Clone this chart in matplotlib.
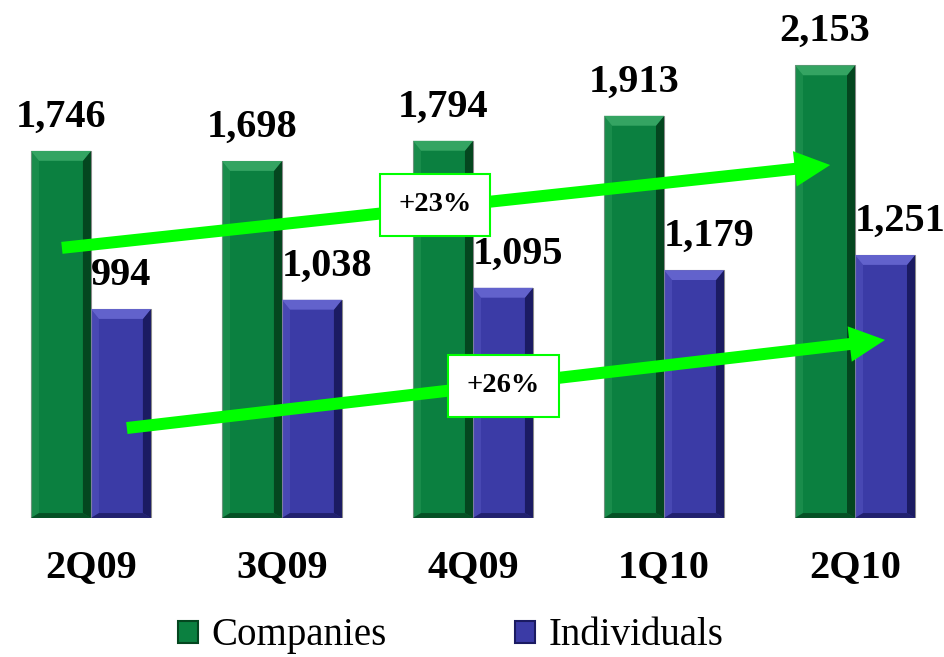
import numpy as np
import matplotlib.pyplot as plt
from matplotlib.patches import Polygon, Patch

quarters = ['2Q09', '3Q09', '4Q09', '1Q10', '2Q10']
companies = [1746, 1698, 1794, 1913, 2153]
individuals = [994, 1038, 1095, 1179, 1251]

green = '#0b8040'
green_light = '#34a462'
green_dark = '#04461f'
blue = '#3b3ba6'
blue_light = '#6262cc'
blue_dark = '#1b1b62'
lime = '#00ff00'

plt.rcParams['font.family'] = ['Liberation Serif', 'DejaVu Serif']

fig = plt.figure(figsize=(9.45, 6.57), dpi=100)
ax = fig.add_axes([0, 139 / 657, 1, 518 / 657])

x = np.arange(len(quarters))
w = 0.314


def bevel(ax, bars, light, dark):
    # fake 3D bevel on every bar: lighter top, darker bottom/right
    dx = 0.042
    dy = 47
    for b in bars:
        x0, x1 = b.get_x(), b.get_x() + b.get_width()
        h = b.get_height()
        top = [(x0, h), (x1, h), (x1 - dx, h - dy), (x0 + dx, h - dy)]
        bottom = [(x0, 0), (x1, 0), (x1 - dx, dy * 0.5), (x0 + dx, dy * 0.5)]
        right = [(x1, 0), (x1, h), (x1 - dx, h - dy), (x1 - dx, dy * 0.5)]
        left = [(x0, 0), (x0, h), (x0 + dx, h - dy), (x0 + dx, dy * 0.5)]
        ax.add_patch(Polygon(left, closed=True, fc=light, ec='none', alpha=0.35, zorder=3))
        ax.add_patch(Polygon(right, closed=True, fc=dark, ec='none', zorder=3))
        ax.add_patch(Polygon(bottom, closed=True, fc=dark, ec='none', alpha=0.8, zorder=3))
        ax.add_patch(Polygon(top, closed=True, fc=light, ec='none', zorder=3))


b1 = ax.bar(x - w / 2, companies, w, color=green, edgecolor='#8a8a8a', linewidth=0.8, zorder=2)
b2 = ax.bar(x + w / 2, individuals, w, color=blue, edgecolor='#8a8a8a', linewidth=0.8, zorder=2)
bevel(ax, b1, green_light, green_dark)
bevel(ax, b2, blue_light, blue_dark)

for xi, v in zip(x, companies):
    ax.annotate(f'{v:,}', (xi - w / 2, v), xytext=(0, 11), textcoords='offset points',
                ha='center', va='bottom', fontsize=29, fontweight='bold')
for xi, v in zip(x, individuals):
    ax.annotate(f'{v:,}', (xi, v), xytext=(0, 11), textcoords='offset points',
                ha='left', va='bottom', fontsize=29, fontweight='bold')

# growth arrows
arrow = dict(arrowstyle='simple,head_length=0.8,head_width=0.8,tail_width=0.27',
             fc=lime, ec='none', mutation_scale=32, shrinkA=0, shrinkB=0)
ax.annotate('', xy=(3.87, 1679), xytext=(-0.152, 1285), arrowprops=arrow, zorder=5)
ax.annotate('', xy=(4.157, 847), xytext=(0.188, 428), arrowprops=arrow, zorder=5)

box = dict(boxstyle='square,pad=0.65', fc='white', ec=lime, lw=1.5)
ax.text(1.80, 1489, '+23%', ha='center', va='center', fontsize=20.5, fontweight='bold',
        bbox=box, zorder=6)
ax.text(2.16, 628, '+26%', ha='center', va='center', fontsize=20.5, fontweight='bold',
        bbox=box, zorder=6)

ax.set_xlim(-0.476, 4.471)
ax.set_ylim(0, 2464)
ax.set_xticks(x)
ax.set_xticklabels(quarters, fontsize=29, fontweight='bold')
ax.tick_params(axis='x', length=0, pad=22)
ax.set_yticks([])
for s in ax.spines.values():
    s.set_visible(False)

handles = [Patch(fc=green, ec=green_dark, lw=1.5), Patch(fc=blue, ec=blue_dark, lw=1.5)]
fig.legend(handles, ['Companies', 'Individuals'], loc='center', bbox_to_anchor=(0.477, 0.032),
           ncol=2, frameon=False, fontsize=28, handlelength=0.5, handleheight=0.5,
           handletextpad=0.36, columnspacing=3.3, borderpad=0.1)

fig.savefig('out.png', dpi=100)
